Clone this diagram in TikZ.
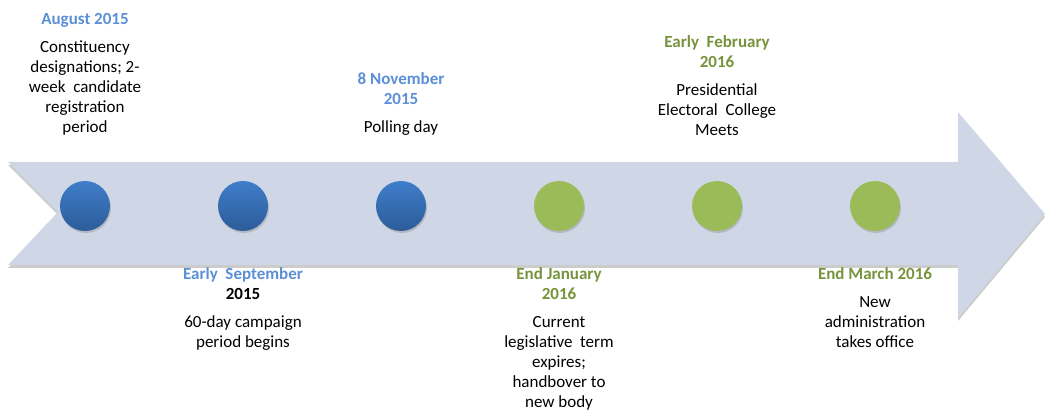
\documentclass[tikz,border=0pt]{standalone}
\usepackage{fontspec}
\setmainfont{Carlito}
\usetikzlibrary{positioning,shadows}

\definecolor{arrowfill}{HTML}{CFD7E7}
\definecolor{dotblue}{HTML}{3F7DCA}
\definecolor{dotbluedark}{HTML}{2C5C99}
\definecolor{dotgreen}{HTML}{9BBB59}
\definecolor{dateblue}{HTML}{5B8FD6}
\definecolor{dategreen}{HTML}{77933C}

\tikzset{
    dot/.style={circle, minimum size=50pt, inner sep=0pt,
        drop shadow={opacity=0.35, shadow xshift=1pt, shadow yshift=-2pt}},
    bluedot/.style={dot, top color=dotblue, bottom color=dotbluedark},
    greendot/.style={dot, fill=dotgreen},
    event/.style={align=center, inner sep=0pt, font=\fontsize{17}{20}\selectfont},
}

\begin{document}
\begin{tikzpicture}[x=1pt, y=-1pt]
    \useasboundingbox (0, 0) rectangle (1045, 414);

    % the timeline arrow
    \fill[arrowfill, drop shadow={opacity=0.4, shadow xshift=0pt, shadow yshift=-3pt}]
        (8, 162) -- (958, 162) -- (958, 112) -- (1045, 214) -- (958, 318)
        -- (958, 265) -- (8, 265) -- (58, 212) -- cycle;

    % dots
    \node[bluedot] (aug) at (85, 206) { };
    \node[bluedot] (sep) at (243, 206) { };
    \node[bluedot] (nov) at (401, 206) { };
    \node[greendot] (jan) at (559, 206) { };
    \node[greendot] (feb) at (717, 206) { };
    \node[greendot] (mar) at (875, 206) { };

    % labels above the arrow
    \node[event, anchor=south, above=45pt of aug] (augtext) {
        {\color{dateblue}\bfseries August 2015}\\[8pt]
        Constituency\\ designations; 2-\\ week\ \ candidate\\ registration\\ period };
    \node[event, anchor=south, above=45pt of nov] (novtext) {
        {\color{dateblue}\bfseries 8 November}\\ {\color{dateblue}\bfseries 2015}\\[8pt]
        Polling day };
    \node[event, anchor=south, above=45pt of feb] (febtext) {
        {\color{dategreen}\bfseries Early\ \ February}\\ {\color{dategreen}\bfseries 2016}\\[8pt]
        Presidential\\ Electoral\ \ College\\ Meets };

    % labels below the arrow
    \node[event, anchor=north, below=36pt of sep] (septext) {
        {\color{dateblue}\bfseries Early\ \ September}\\ {\bfseries 2015}\\[8pt]
        60-day campaign\\ period begins };
    \node[event, anchor=north, below=36pt of jan] (jantext) {
        {\color{dategreen}\bfseries End January}\\ {\color{dategreen}\bfseries 2016}\\[8pt]
        Current\\ legislative\ \ term\\ expires;\\ handbover to\\ new body };
    \node[event, anchor=north, below=36pt of mar] (martext) {
        {\color{dategreen}\bfseries End March 2016}\\[8pt]
        New\\ administration\\ takes office };
\end{tikzpicture}
\end{document}
